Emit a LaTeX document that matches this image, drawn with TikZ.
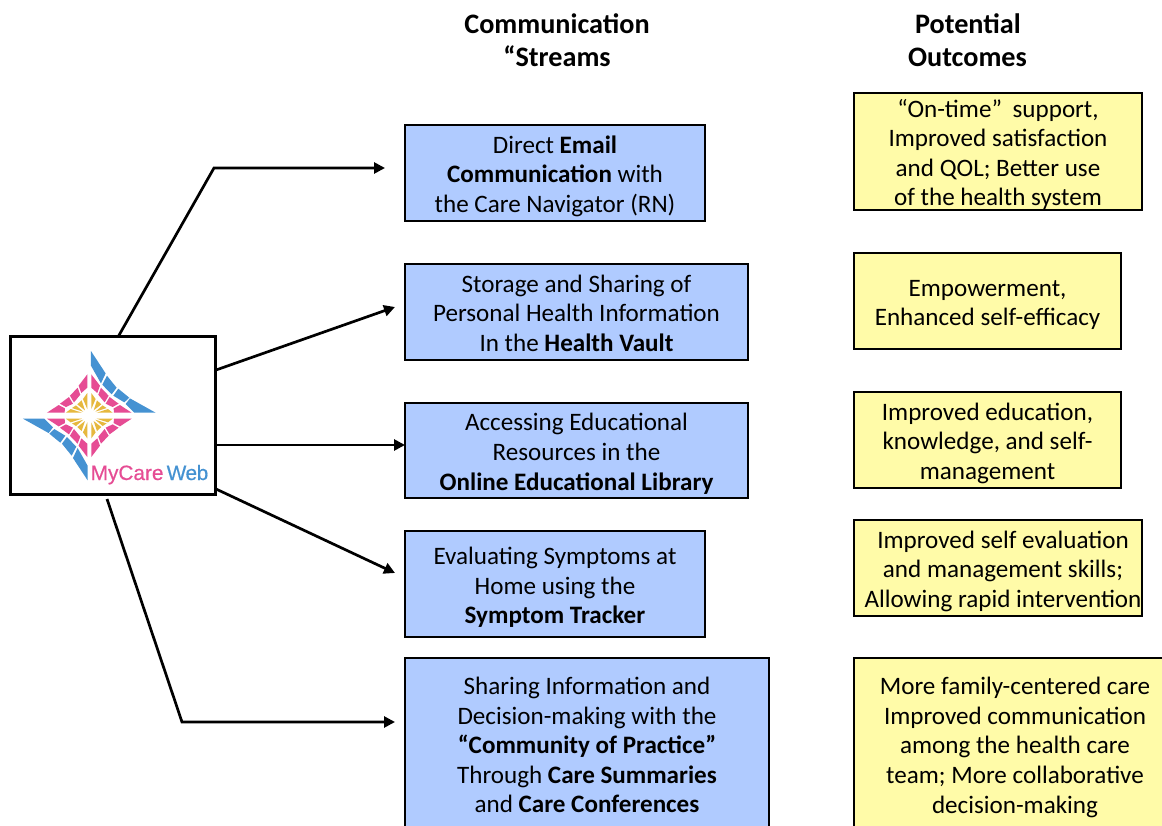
\documentclass[tikz,border=0pt]{standalone}
\usepackage{fontspec}
\setmainfont{Carlito}
\newfontfamily\logofont[FakeBold=0.5]{Liberation Sans}
\usetikzlibrary{arrows.meta}
\definecolor{boxblue}{HTML}{B0CBFF}
\definecolor{boxyellow}{HTML}{FFFBA8}
\definecolor{logopink}{HTML}{E64C94}
\definecolor{logoblue}{HTML}{4592D2}
\definecolor{logogold}{HTML}{E6B83E}
\newcommand{\lowerfirst}{\rule{0pt}{24pt}}
\newcommand{\raiselast}{\rule[-4.5pt]{0pt}{1pt}}
\tikzset{
  basebox/.style={draw=black,line width=2.9pt,rectangle,align=center,inner sep=0pt,
    font=\fontsize{25.1pt}{29.6pt}\selectfont,text=black},
  streambox/.style={basebox,fill=boxblue},
  outcomebox/.style={basebox,fill=boxyellow},
  logobox/.style={draw=black,line width=3pt,fill=white,rectangle,inner sep=0pt},
  header/.style={font=\fontsize{28.2pt}{33.6pt}\selectfont\bfseries,inner sep=0pt},
  logoword/.style={inner sep=0pt,anchor=base west,font=\fontsize{20.8pt}{21pt}\selectfont\logofont},
  conn/.style={draw=black,line width=2.7pt,-{Triangle[length=11pt,width=11pt]},line join=miter},
}
\begin{document}
\begin{tikzpicture}[x=1pt,y=-1pt]
\useasboundingbox (0,0) rectangle (1162,826);
\clip (0,0) rectangle (1162,826);
\fill[white] (0,0) rectangle (1162,826);

% headers
\node[header,align=center] (h1) at (557,40) {Communication\\“Streams};
\node[header,align=left]   (h2) at (967.5,40) {\hspace*{7pt}Potential\\Outcomes};

% logo box
\node[logobox,minimum width=205pt,minimum height=157pt] (logo) at (112.5,415.5) {};

% logo mark
\begin{scope}[shift={(89.3,415.7)},x=0.3333pt,y=0.3333pt]
  \foreach \sg in {1,-1}{
    \begin{scope}[xscale=\sg,yscale=\sg]
      \fill[logoblue] (5,194)--(49,127)--(35,97)--(5,150)--cycle;
      \fill[logoblue] (53,120)--(82,84)--(67,64)--(39,93)--cycle;
      \fill[logoblue] (87,81)--(120,54)--(105,40)--(72,60)--cycle;
      \fill[logoblue] (122,52)--(199,9)--(135,9)--(109,35)--cycle;
    \end{scope}
  }
  \foreach \sx/\sy in {1/1,-1/1,1/-1,-1/-1}{
    \begin{scope}[xscale=\sx,yscale=\sy]
      \fill[logopink] (6,124)--(32,90)--(24,68)--(6,84)--cycle;
      \fill[logopink] (35,84)--(58,60)--(46,40)--(27,63)--cycle;
      \fill[logopink] (61,56)--(88,36)--(70,26)--(49,36)--cycle;
      \fill[logopink] (92,32)--(127,9)--(74,9)--(73,22)--cycle;
      \fill[logogold] (6,68)--(19,50)--(6,20)--cycle;
      \fill[logogold] (23,46)--(36,34)--(13,16)--cycle;
      \fill[logogold] (40,31)--(52,23)--(18,12)--cycle;
      \fill[logogold] (56,20)--(70,9)--(22,9)--cycle;
    \end{scope}
  }
\end{scope}
\node[logoword,text=logopink] (myc) at (90.5,480) {MyCare};
\node[logoword,text=logoblue] (web) at (166.5,480) {\addfontfeature{LetterSpace=-2}Web};

% stream boxes
\node[streambox,minimum width=300pt,minimum height=96pt] (b1) at (555,173)
  {\lowerfirst Direct \textbf{Email}\\\textbf{Communication} with\\the Care Navigator (RN)};
\node[streambox,minimum width=343pt,minimum height=96pt] (b2) at (576.5,312)
  {\lowerfirst Storage and Sharing of\\Personal Health Information\\In the \textbf{Health Vault}\raiselast};
\node[streambox,minimum width=343pt,minimum height=95pt] (b3) at (576.5,450.5)
  {\lowerfirst Accessing Educational\\Resources in the\\\textbf{Online Educational Library}};
\node[streambox,minimum width=300pt,minimum height=106pt] (b4) at (555,584)
  {\lowerfirst Evaluating Symptoms at\\Home using the\\\textbf{Symptom Tracker}};
\node[streambox,minimum width=364pt,minimum height=172pt] (b5) at (587,744)
  {\lowerfirst Sharing Information and\\Decision-making with the\\\textbf{“Community of Practice”}\\Through \textbf{Care Summaries}\\and \textbf{Care Conferences}\raiselast};

% outcome boxes
\node[outcomebox,minimum width=288pt,minimum height=117pt] (y1) at (998,151.5)
  {\lowerfirst “On-time”\hspace{5pt} support,\\Improved satisfaction\\and QOL; Better use\\of the health system};
\node[outcomebox,minimum width=267pt,minimum height=96pt] (y2) at (987.5,301)
  {\lowerfirst Empowerment,\\Enhanced self-efficacy};
\node[outcomebox,minimum width=267pt,minimum height=96pt] (y3) at (987.5,440)
  {\lowerfirst Improved education,\\knowledge, and self-\\management};
\node[outcomebox,minimum width=288pt,minimum height=96pt] (y4) at (998,568)
  {\lowerfirst\hspace*{10pt}Improved self evaluation\\\hspace*{10pt}and management skills;\\\hspace*{10pt}Allowing rapid intervention};
\node[outcomebox,minimum width=322pt,minimum height=172pt] (y5) at (1015,744)
  {\lowerfirst More family-centered care\\Improved communication\\among the health care\\team; More collaborative\\decision-making};

% connector ends
\coordinate (s1) at (118,337);
\coordinate (k1) at (214,168);
\coordinate (e1) at (385,168);
\coordinate (s2) at (216,370);
\coordinate (e2) at (395,307);
\coordinate (s3) at (216,445);
\coordinate (e3) at (405,445);
\coordinate (s4) at (216,489);
\coordinate (e4) at (395,573);
\coordinate (s5) at (107,499);
\coordinate (k5) at (182,722);
\coordinate (e5) at (395,722);

\draw[conn] (s1) -- (k1) -- (e1);
\draw[conn] (s2) -- (e2);
\draw[conn] (s3) -- (e3);
\draw[conn] (s4) -- (e4);
\draw[conn] (s5) -- (k5) -- (e5);
\end{tikzpicture}
\end{document}
